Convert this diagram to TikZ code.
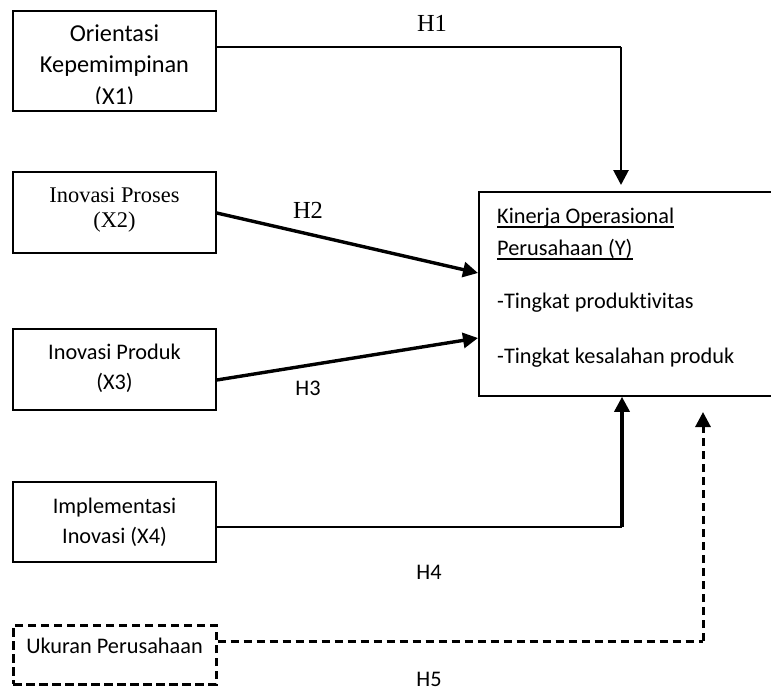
\documentclass[tikz,border=0pt]{standalone}
\usepackage{fontspec}
\setmainfont{Liberation Serif}
\newfontfamily\calibfont[Ligatures={NoCommon}]{Carlito}
\usetikzlibrary{arrows.meta}
\begin{document}
\begin{tikzpicture}[x=1pt,y=-1pt,
  box/.style={draw, rectangle, line width=1.6pt, inner sep=0pt, minimum width=203pt},
  dbox/.style={box, line width=3pt, dash pattern=on 8.5pt off 4.5pt},
  sans/.style={inner sep=0pt, anchor=base, font=\calibfont\fontsize{22.3}{27}\selectfont},
  sansbig/.style={inner sep=0pt, anchor=base, font=\calibfont\fontsize{24.3}{29}\selectfont},
  serif/.style={inner sep=0pt, anchor=base, font=\fontsize{22.4}{27}\selectfont},
  hser/.style={inner sep=0pt, anchor=base, font=\fontsize{24.5}{29}\selectfont},
  thinline/.style={line width=1.9pt},
  thickline/.style={line width=3.4pt},
  tip/.style={-{Triangle[length=15pt,width=15pt]}},
  dline/.style={line width=3pt, dash pattern=on 8.5pt off 4.5pt}
]
\clip (0,0) rectangle (771,691);
\fill[white] (0,0) rectangle (771,691);

% boxes
\node[box, minimum height=100pt] (x1) at (114.5,61) {};
\node[box, minimum height=81pt] (x2) at (114.5,212.5) {};
\node[box, minimum height=81pt] (x3) at (114.5,369.5) {};
\node[box, minimum height=80pt] (x4) at (114.5,522) {};
\node[dbox, minimum height=59pt] (x5) at (114.5,654.5) {};
\node[draw, rectangle, line width=1.6pt, inner sep=0pt, minimum width=330pt, minimum height=204pt] (yb) at (644,294) {};

% box texts
\begin{scope}
\clip (13,11) rectangle (216,103.5);
\node[sansbig] (t1a) at (114.5,41.5) {Orientasi};
\node[sansbig] (t1b) at (114.5,72.5) {Kepemimpinan};
\node[sansbig] (t1c) at (114.5,104) {(X1)};
\end{scope}
\node[serif] (t2a) at (114.5,202) {Inovasi Proses};
\node[serif] (t2b) at (114.5,227) {(X2)};
\node[sans] (t3a) at (114.5,359) {Inovasi Produk};
\node[sans] (t3b) at (114.5,389) {(X3)};
\node[sans] (t4a) at (114.5,513) {Implementasi};
\node[sans] (t4b) at (114.5,543.5) {Inovasi (X4)};
\node[sans] (t5) at (114.5,653) {Ukuran Perusahaan};

\node[sans, anchor=base west] (y1) at (497,223) {Kinerja Operasional};
\node[sans, anchor=base west] (y2) at (497,255) {Perusahaan (Y)};
\node[sans, anchor=base west] (y3) at (497,308) {-Tingkat produktivitas};
\node[sans, anchor=base west] (y4) at (497,363) {-Tingkat kesalahan produk};
\draw[line width=1.5pt] ([yshift=-4pt]y1.base west) -- ([yshift=-4pt]y1.base east);
\draw[line width=1.5pt] ([yshift=-4pt]y2.base west) -- ([yshift=-4pt]y2.base east);

% coordinates
\coordinate (h1c) at (621,47);
\coordinate (h1e) at (621,185);
\coordinate (h2e) at (478,273);
\coordinate (h3e) at (478,338);
\coordinate (h4c) at (622,527);
\coordinate (h5c) at (703,641);
\coordinate (h5e) at (703,412);

% connectors
\draw[thinline] ([yshift=14pt]x1.east) -- (h1c);
\draw[line width=2.8pt, tip] (h1c) -- (h1e);
\draw[thickline, tip] ([yshift=-0.5pt]x2.east) -- (h2e);
\draw[thickline, tip] ([yshift=-10.5pt]x3.east) -- (h3e);
\draw[thinline] ([yshift=-5pt]x4.east) -- (h4c);
\draw[thickline, tip] (h4c) -- (h4c |- yb.south);
\draw[dline] ([yshift=13.5pt]x5.east) -- (h5c);
\draw[dline, tip] (h5c) -- (h5e);

% labels
\node[hser] (l1) at (432,31) {H1};
\node[hser] (l2) at (308,218) {H2};
\node[sans] (l3) at (308,395) {H3};
\node[sans] (l4) at (429,579) {H4};
\node[sans] (l5) at (429,686) {H5};
\end{tikzpicture}
\end{document}
